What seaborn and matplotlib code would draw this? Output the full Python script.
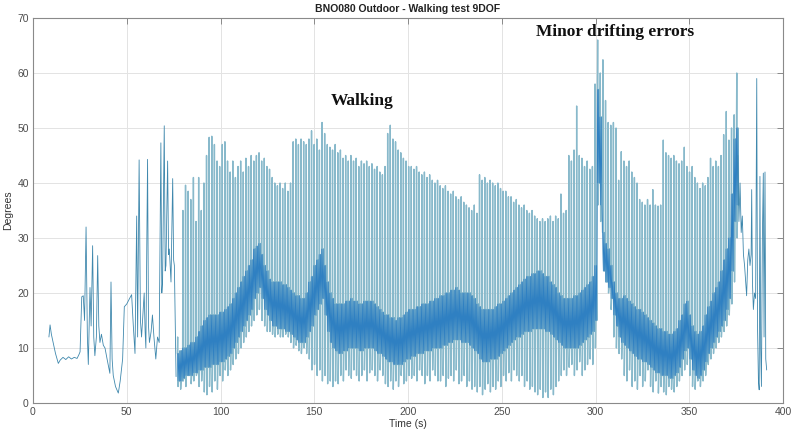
import numpy as np
import pandas as pd
import matplotlib
matplotlib.use("Agg")
import matplotlib.pyplot as plt
import seaborn as sns

# ---- sensor settling and first movements (s, degrees) ----
early_t = [8.5, 9.1, 9.8, 10.8, 12.0, 13.5, 14.5, 16.0, 17.5, 19.0, 20.5, 22.0, 23.5, 24.5,
           25.1, 26.0, 26.8, 27.5, 28.3, 29.0, 29.5, 30.4, 31.0, 31.8, 32.4, 33.0, 33.8, 34.5,
           35.1, 35.7, 36.5, 37.5, 38.4, 39.5, 41.0, 41.6, 42.2, 42.8, 44.0, 45.5, 46.5, 47.8,
           48.7, 50.0, 51.5, 52.6, 53.5, 54.4, 55.3, 55.8, 56.6, 57.3, 57.9, 58.6, 59.3, 59.8,
           60.2, 61.1, 61.6, 62.1, 63.0, 63.7, 64.5, 65.5, 66.4, 67.3, 68.2, 68.7, 69.1, 70.0,
           70.5, 70.9, 71.8, 72.3, 72.7, 73.6, 74.5, 75.0, 75.4, 76.3]
early_v = [12.0, 14.2, 12.5, 10.9, 9.0, 7.2, 7.8, 8.3, 7.9, 8.4, 8.0, 8.3, 8.1, 8.8,
           9.3, 19.3, 19.5, 15.0, 32.0, 12.0, 7.0, 21.0, 14.0, 28.6, 12.0, 8.6, 12.0, 26.8,
           14.0, 11.0, 12.5, 10.5, 10.0, 8.0, 5.4, 22.0, 8.0, 5.0, 3.0, 1.8, 4.0, 8.0,
           17.5, 18.0, 19.0, 19.7, 14.0, 9.0, 34.0, 12.0, 44.2, 15.0, 12.0, 16.0, 20.0, 13.0,
           10.0, 44.3, 14.0, 11.0, 13.0, 16.0, 12.0, 8.0, 12.0, 11.0, 47.3, 20.0, 22.0, 50.4,
           24.0, 25.0, 44.0, 27.0, 28.0, 22.0, 40.8, 26.0, 25.0, 4.8]

# ---- walking: one value per stride, strides every 1.4 s from 77 s ----
stride_start = 77.0
stride_period = 1.4
stride_peak = [
    12, 9, 35, 39.6, 38.5, 37, 41, 33, 41, 35,
    40, 45, 48.3, 48.5, 47, 44, 43, 47, 47.5, 44,
    42, 44, 41, 43, 44, 42, 44.5, 43, 45, 44,
    45, 45.5, 44, 44.5, 43, 42.5, 41, 40, 39.5, 40,
    39, 40, 38.5, 40, 47.5, 48, 47, 48, 47.5, 47,
    48, 49.5, 47, 48, 46, 51, 49, 47, 46.5, 46,
    47, 45.5, 46, 44.5, 45, 44, 45, 44, 44.5, 43,
    44, 43.5, 44, 43, 43.5, 42.5, 43, 42, 41.5, 43,
    49, 50.5, 48, 47.5, 46, 45.5, 44.5, 44, 43, 43,
    42.5, 43, 42, 41.5, 42, 41, 41.5, 40.5, 40, 40.5,
    39.5, 39, 39.5, 38.5, 38, 38.5, 37.5, 37, 37.5, 36.5,
    36, 35.5, 35, 36, 34.5, 41.5, 40.5, 41, 40, 40.5,
    40, 39.5, 40, 39, 38.5, 38.5, 37.5, 37.5, 36.5, 37,
    36, 35.5, 36, 35, 34.5, 35, 34, 33.5, 33, 33.5,
    33, 33.5, 34, 33, 34, 33.5, 38, 34.5, 35, 45,
    44, 46, 54, 45, 44.5, 43, 44, 42.5, 43, 58,
    66, 60, 62.4, 55, 51, 50.5, 51, 50, 40.5, 45.7,
    44, 43, 44, 42, 41, 40, 37, 36.5, 36, 37,
    36, 38.8, 36, 35.8, 36, 47.8, 45.5, 45, 44.5, 45,
    44, 43.5, 44, 46.5, 43, 42, 43, 41, 40, 39,
    40, 39.5, 41, 44.5, 43, 44, 43, 45, 48.8, 53,
    47.8, 50, 52.4, 60,
]
stride_trough = [
    3, 2.5, 4, 3, 5, 3.5, 4, 5, 3, 4,
    2, 1.5, 3, 2, 4, 2.5, 5, 4, 6, 5,
    6, 7, 8, 9, 10, 11, 12, 13, 14, 15,
    16, 17, 15, 14, 13, 13, 12.5, 12, 12.5, 12,
    12, 12.5, 12, 11, 10, 10.5, 9.5, 9, 10, 9,
    8, 6, 7, 5, 6, 4, 5, 3.5, 4, 3,
    4, 3.5, 5, 4, 6, 5, 4.5, 6, 5, 4,
    5, 6, 4, 5.5, 6, 5, 4, 6, 5, 3.5,
    3, 4, 2.5, 4, 3, 5, 3.5, 4, 5, 4.5,
    5, 4, 6, 5, 3.5, 5, 4, 6, 5, 4,
    4, 5, 3, 4.5, 5, 4, 6, 3.5, 4, 5,
    3, 4, 2.5, 3, 2, 3, 1.5, 2.5, 3.5, 2,
    3, 2.5, 4, 3, 5, 4, 5.5, 4, 6, 5,
    4, 5, 3, 4, 2.5, 3, 2, 1.5, 2.5, 1,
    2, 1, 2.5, 1.5, 3, 4, 5, 6, 5, 6.5,
    7, 5, 6, 7.5, 5, 6, 7, 8, 7, 10,
    36, 33, 28, 22, 20, 17, 12, 10, 9, 8,
    5, 4, 6, 3, 4, 2.5, 5, 3, 4, 6,
    3, 2, 4, 1.8, 3, 2, 1.5, 3, 2.5, 2,
    3, 4, 5, 6, 7, 5, 3, 2.5, 4, 3,
    4, 5, 7, 8, 9, 10, 11, 12, 13, 14,
    16, 18, 22, 30,
]
band_low = [
    4, 4, 4.5, 5, 5, 5, 5.5, 5.5, 6, 6,
    6.5, 6.5, 6.5, 7, 7, 7, 7.5, 7.5, 8, 8.5,
    9, 10, 11, 12, 13, 14, 15, 16, 17, 19,
    20, 21, 19, 17, 16, 15, 14, 14, 13.5, 13.5,
    13.5, 13, 13, 12.5, 12, 11.5, 11, 11, 11, 12,
    13, 14, 16, 17, 18, 19, 16, 13, 11, 10,
    9.5, 9, 9, 9.5, 9.5, 10, 10, 10, 10, 9.5,
    9.5, 10, 10, 10, 10, 9.5, 9, 9, 8.5, 8,
    7.5, 7.5, 7, 7, 7, 7, 7.5, 8, 8, 8.5,
    8.5, 9, 9, 9, 9.5, 9.5, 9.5, 10, 10, 10,
    10, 10.5, 10.5, 11, 11, 11.5, 11.5, 11.5, 11, 11,
    11, 10.5, 10, 9.5, 9, 8, 7.5, 7.5, 7.5, 8,
    8, 8, 8.5, 9, 9.5, 10, 10.5, 11, 11.5, 12,
    12, 12.5, 13, 13, 13, 13.5, 13.5, 13.5, 13.5, 13.5,
    13, 13, 12.5, 12, 11.5, 11, 10.5, 10, 10, 10,
    10, 10, 10, 10.5, 11, 11.5, 12, 12.5, 13, 15,
    40, 36, 24, 22, 21, 19, 16, 14, 12, 11,
    10.5, 10, 9.5, 9, 8.5, 8, 8, 7.5, 7.5, 7,
    6.5, 6, 5.5, 5.5, 5, 5, 5, 4.5, 4.5, 5,
    5.5, 6.5, 8, 9.5, 10, 8, 6, 5, 4.5, 5,
    6, 7.5, 9, 10, 11, 12, 13, 14, 15, 17,
    19, 24, 33, 36,
]
band_high = [
    9, 9.5, 10, 10, 10.5, 11, 11, 12, 13, 14,
    15, 15.5, 16, 16, 16, 16, 16.5, 16.5, 17, 17.5,
    18, 19, 20, 21, 22, 23, 24, 25, 26, 28,
    28.5, 29, 27, 25, 24, 22.5, 22, 22, 22, 22,
    21.5, 21.5, 21, 20.5, 20, 19.5, 19.5, 19, 19, 20,
    22, 23, 25, 26, 27, 28, 25, 22, 20, 19,
    18, 18, 18, 18, 18.5, 18.5, 19, 18.5, 18.5, 18,
    18, 18.5, 18.5, 18.5, 18.5, 18, 17.5, 17, 16.5, 16,
    16, 15.5, 15.5, 15, 15.5, 15.5, 16, 16.5, 17, 17,
    17, 17.5, 17.5, 18, 18, 18, 18.5, 18.5, 19, 19,
    19.5, 19.5, 20, 20, 20.5, 20.5, 21, 20.5, 20, 20,
    20, 20, 19.5, 19, 18, 17.5, 17, 17, 17, 17,
    17, 17.5, 18, 18, 18.5, 19, 19.5, 20, 20.5, 21,
    21.5, 22, 22.5, 23, 23, 23.5, 23.5, 24, 24, 23.5,
    23, 23, 22, 21.5, 21, 20, 19.5, 19, 19, 19,
    19, 19.5, 19.5, 20, 20.5, 21, 21.5, 22, 23, 25,
    57, 52, 31, 29, 28, 25, 22, 20, 19, 19,
    19.5, 19, 18.5, 18, 17.5, 17, 17, 16.5, 16, 15.5,
    15, 14.5, 14, 13.5, 13.5, 13, 13, 12.5, 12.5, 13,
    13.5, 15, 16, 18, 18.5, 16, 14, 13, 12.5, 13,
    14, 16, 17.5, 18.5, 20, 21, 22, 24, 26, 28,
    30, 38, 48, 50,
]

# ---- end of the run ----
tail_t = [375.9, 376.5, 377.1, 377.7, 378.3, 378.9, 379.5, 380.1, 380.6, 381.2, 381.8,
          382.4, 383.0, 383.3, 383.7, 384.2, 384.8, 385.4, 386.0, 386.4, 386.9, 387.3,
          387.7, 388.1, 388.5, 389.0, 389.5, 389.9, 390.4, 390.8, 391.3]
tail_v = [45, 33, 40, 31, 34, 27, 25, 22, 19.5, 26, 28,
          25, 27, 38.8, 22, 17, 20, 19, 59, 14, 4, 2.4,
          41.2, 10, 3, 30, 41.8, 12, 42, 8, 6]

x_ticks = [0, 50, 100, 150, 200, 250, 300, 350, 400]
y_ticks = [0, 10, 20, 30, 40, 50, 60, 70]

title = "BNO080 Outdoor - Walking test 9DOF"
note_walk = "Walking"
note_drift = "Minor drifting errors"

# ---- assemble the sample sequences ----
# full stride: rise out of the band, spike to the peak, drop to the trough,
# then settle back inside the band
stride_shape = [("hi", 0.0), ("peak", 0.15), ("trough", 0.35),
                ("lo", 0.6), ("hi", 0.85), ("lo", 1.1)]
# fast jitter that keeps the signal inside the band between spikes
band_shape = [("hi", 0.0), ("lo", 0.35), ("hi", 0.7), ("lo", 1.05)]

rows = []
for t, v in zip(early_t, early_v):
    rows.append(("trace", 0, t, v))
for k in range(len(stride_peak)):
    t0 = stride_start + k * stride_period
    vals = {"hi": band_high[k], "lo": band_low[k],
            "peak": stride_peak[k], "trough": stride_trough[k]}
    for key, off in stride_shape:
        rows.append(("spikes", 1, t0 + off, vals[key]))
for k in range(len(stride_peak)):
    t0 = stride_start + k * stride_period
    vals = {"hi": band_high[k], "lo": band_low[k]}
    for key, off in band_shape:
        rows.append(("band", 2, t0 + off, vals[key]))
for t, v in zip(tail_t, tail_v):
    rows.append(("trace", 3, t, v))

df = pd.DataFrame(rows, columns=["part", "segment", "time", "deg"])

palette = {"trace": "#3f88ad", "spikes": "#88b9cb", "band": "#2f80c2"}
widths = {"trace": 0.6, "spikes": 1.0, "band": 0.5}

# ---- figure ----
sns.set_style("white")
plt.rcParams["font.family"] = ["Liberation Sans", "DejaVu Sans"]

fig = plt.figure(figsize=(7.91, 4.32), dpi=100)
ax = fig.add_axes([33 / 791, 1 - 403 / 432, 750 / 791, 385 / 432])

for part in ["spikes", "band", "trace"]:
    sub = df[df["part"] == part]
    sns.lineplot(data=sub, x="time", y="deg", units="segment", sort=False,
                 estimator=None, color=palette[part], linewidth=widths[part],
                 ax=ax, legend=False)

ax.set_xlim(0, 400)
ax.set_ylim(0, 70)
ax.set_xticks(x_ticks)
ax.set_yticks(y_ticks)
ax.grid(True, color="#e3e3e3", linewidth=0.7)
ax.set_axisbelow(True)
for side in ["top", "bottom", "left", "right"]:
    ax.spines[side].set_visible(True)
    ax.spines[side].set_color("#8a8a8a")
    ax.spines[side].set_linewidth(0.8)
ax.tick_params(direction="in", top=True, right=True, length=4, width=0.7,
               color="#8a8a8a", labelsize=7.5, labelcolor="#4d4d4d", pad=3)

ax.set_xlabel("Time (s)", fontsize=7.5, color="#333333", labelpad=1)
ax.set_ylabel("Degrees", fontsize=7.5, color="#333333", labelpad=3)
ax.set_title(title, fontsize=7.5, fontweight="bold", color="#222222", pad=4)

ax.text(175.5, 54.9, note_walk, ha="center", va="center", fontsize=12.5,
        fontweight="bold", family=["Liberation Serif", "DejaVu Serif"], color="#111111")
ax.text(310.5, 67.5, note_drift, ha="center", va="center", fontsize=12.5,
        fontweight="bold", family=["Liberation Serif", "DejaVu Serif"], color="#111111")

fig.savefig("out.png", dpi=100)
